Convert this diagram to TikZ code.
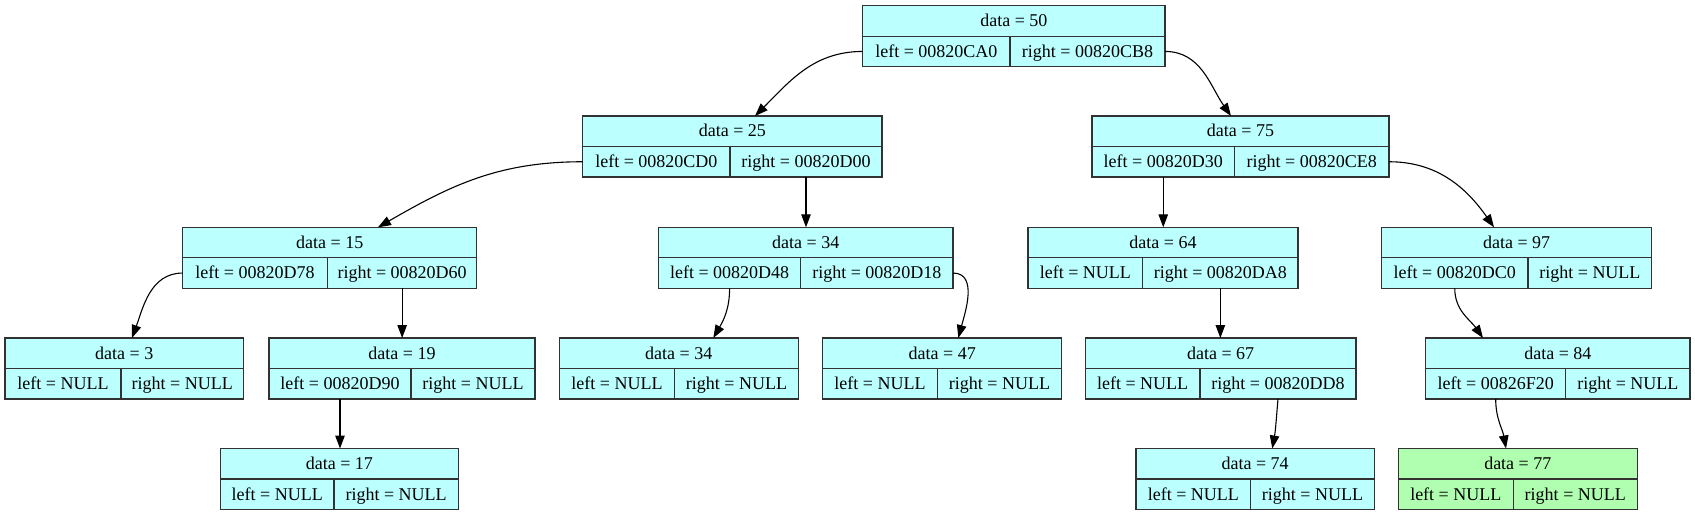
\documentclass[tikz,border=0pt]{standalone}
\usepackage{fontspec}
\setmainfont{Liberation Serif}
\usetikzlibrary{arrows.meta}
\definecolor{cyanfill}{RGB}{187,255,255}
\definecolor{greenfill}{RGB}{176,255,176}
\definecolor{borderc}{RGB}{50,50,50}
\tikzset{
  recbox/.style={draw=borderc, line width=1.1pt, rectangle, minimum height=61pt, inner sep=0pt, outer sep=0pt},
  recline/.style={draw=borderc, line width=1.1pt},
  rectext/.style={anchor=base, inner sep=0pt, font=\fontsize{18pt}{20pt}\selectfont},
  edge/.style={draw=black, line width=1.1pt, -{Triangle[length=13pt,width=9.5pt]}},
}
\newcommand\recnode[9]{%
  \node[recbox, fill=#9, minimum width={#3-#2}, anchor=north west] (#1) at (#2,#5) {};
  \draw[recline] (#1.west) -- (#1.east);
  \draw[recline] (#4,#5+30.5) -- (#4,#5+61);
  \node[rectext] (#1d) at ({(#2+#3)/2},#5+21) {#6};
  \node[rectext] (#1l) at ({(#2+#4)/2},#5+51.5) {#7};
  \node[rectext] (#1r) at ({(#4+#3)/2},#5+51.5) {#8};
  \coordinate (#1lw) at (#2,#5+45.75);
  \coordinate (#1re) at (#3,#5+45.75);
  \coordinate (#1lb) at ({(#2+#4)/2},#5+61);
  \coordinate (#1rb) at ({(#4+#3)/2},#5+61);
}
\begin{document}
\begin{tikzpicture}[x=1pt,y=-1pt]
\useasboundingbox (0,0) rectangle (1695,516);
\recnode{n50}{862.7}{1165}{1010}{5.7}{data = 50}{left = 00820CA0}{right = 00820CB8}{cyanfill}
\recnode{n25}{582.7}{882}{730}{116}{data = 25}{left = 00820CD0}{right = 00820D00}{cyanfill}
\recnode{n75}{1092}{1389}{1234.5}{116}{data = 75}{left = 00820D30}{right = 00820CE8}{cyanfill}
\recnode{n15}{182.6}{476.8}{327.5}{227.3}{data = 15}{left = 00820D78}{right = 00820D60}{cyanfill}
\recnode{n34}{658.5}{953}{800.7}{227.3}{data = 34}{left = 00820D48}{right = 00820D18}{cyanfill}
\recnode{n64}{1028}{1298}{1142.7}{227.3}{data = 64}{left = NULL}{right = 00820DA8}{cyanfill}
\recnode{n97}{1381.5}{1651.8}{1528}{227.3}{data = 97}{left = 00820DC0}{right = NULL}{cyanfill}
\recnode{n3}{5}{243.5}{121}{338}{data = 3}{left = NULL}{right = NULL}{cyanfill}
\recnode{n19}{269}{535}{411}{338}{data = 19}{left = 00820D90}{right = NULL}{cyanfill}
\recnode{n34b}{559.3}{798.3}{674.7}{338}{data = 34}{left = NULL}{right = NULL}{cyanfill}
\recnode{n47}{822.7}{1061.7}{937.3}{338}{data = 47}{left = NULL}{right = NULL}{cyanfill}
\recnode{n67}{1085.3}{1356}{1200}{338}{data = 67}{left = NULL}{right = 00820DD8}{cyanfill}
\recnode{n84}{1425.7}{1690}{1565.7}{338}{data = 84}{left = 00826F20}{right = NULL}{cyanfill}
\recnode{n17}{220.5}{458.3}{334}{448.5}{data = 17}{left = NULL}{right = NULL}{cyanfill}
\recnode{n74}{1136}{1374.3}{1250.7}{448.5}{data = 74}{left = NULL}{right = NULL}{cyanfill}
\recnode{n77}{1398.3}{1637.3}{1513.3}{448.5}{data = 77}{left = NULL}{right = NULL}{greenfill}
% edges
\draw[edge] (n50lw) to[out=180,in=45] ([xshift=172.3pt]n25.north west);
\draw[edge] (n50re) to[out=0,in=125] ([xshift=139pt]n75.north west);
\draw[edge] (n25lw) to[out=180,in=30] ([xshift=195.4pt]n15.north west);
\draw[edge] (n25rb) -- (n25rb |- n34.north);
\draw[edge] (n75lb) -- (n75lb |- n64.north);
\draw[edge] (n75re) to[out=0,in=125] ([xshift=112.5pt]n97.north west);
\draw[edge] (n15lw) to[out=180,in=70] ([xshift=127pt]n3.north west);
\draw[edge] (n15rb) -- (n15rb |- n19.north);
\draw[edge] (n19lb) -- (n19lb |- n17.north);
\draw[edge] (n34lb) to[out=-90,in=60] ([xshift=154pt]n34b.north west);
\draw[edge] (n34re) to[out=0,in=75] ([xshift=135.6pt]n47.north west);
\draw[edge] (n64rb) -- (n64rb |- n67.north);
\draw[edge] (n67rb) to[out=-95,in=80] ([xshift=136.3pt]n74.north west);
\draw[edge] (n97lb) to[out=-90,in=125] ([xshift=57.3pt]n84.north west);
\draw[edge] (n84lb) to[out=-90,in=100] ([xshift=107.7pt]n77.north west);
\end{tikzpicture}
\end{document}
